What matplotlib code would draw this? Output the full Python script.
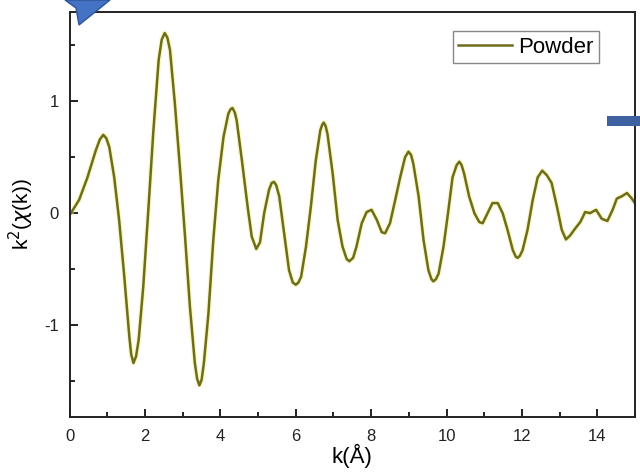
import matplotlib
matplotlib.use("Agg")
import matplotlib.pyplot as plt
from matplotlib.patches import Polygon, Rectangle
from matplotlib.ticker import MultipleLocator

plt.rcParams['font.family'] = ['Liberation Sans', 'DejaVu Sans']
plt.rcParams['axes.unicode_minus'] = False

# k values and k^2 chi(k)
k = [0.03, 0.25, 0.47, 0.69, 0.80, 0.89, 0.97, 1.05, 1.18, 1.31, 1.44, 1.58, 1.63, 1.69,
     1.76, 1.83, 1.95, 2.08, 2.22, 2.36, 2.44, 2.52, 2.59, 2.66, 2.79, 2.93, 3.06, 3.19,
     3.32, 3.38, 3.44, 3.50, 3.56, 3.68, 3.81, 3.94, 4.08, 4.21, 4.27, 4.32, 4.38, 4.43,
     4.57, 4.72, 4.83, 4.95, 5.05, 5.16, 5.29, 5.36, 5.42, 5.48, 5.56, 5.69, 5.82, 5.92,
     6.00, 6.07, 6.14, 6.27, 6.40, 6.53, 6.65, 6.70, 6.74, 6.79, 6.84, 6.98, 7.11, 7.24,
     7.35, 7.42, 7.52, 7.61, 7.75, 7.88, 8.01, 8.15, 8.28, 8.37, 8.50, 8.64, 8.77, 8.90,
     8.99, 9.06, 9.12, 9.26, 9.39, 9.52, 9.60, 9.65, 9.72, 9.79, 9.92, 10.04, 10.16,
     10.27, 10.34, 10.40, 10.47, 10.60, 10.74, 10.87, 10.96, 11.09, 11.22, 11.36, 11.49,
     11.62, 11.76, 11.84, 11.89, 11.95, 12.02, 12.15, 12.29, 12.42, 12.54, 12.66, 12.79,
     12.93, 13.06, 13.17, 13.28, 13.41, 13.55, 13.68, 13.81, 13.97, 14.12, 14.27, 14.41,
     14.52, 14.65, 14.79, 14.92, 15.0]
chi = [0.00, 0.12, 0.32, 0.56, 0.66, 0.70, 0.67, 0.59, 0.32, -0.06, -0.54, -1.10, -1.26, -1.34,
       -1.28, -1.13, -0.66, 0.00, 0.74, 1.37, 1.55, 1.61, 1.57, 1.46, 0.98, 0.38, -0.21, -0.84,
       -1.34, -1.48, -1.54, -1.49, -1.34, -0.90, -0.24, 0.29, 0.68, 0.89, 0.93, 0.94, 0.90, 0.83,
       0.47, 0.06, -0.21, -0.32, -0.26, 0.00, 0.21, 0.27, 0.28, 0.25, 0.15, -0.18, -0.51, -0.62,
       -0.64, -0.62, -0.57, -0.30, 0.06, 0.47, 0.74, 0.79, 0.81, 0.78, 0.71, 0.35, -0.06, -0.30,
       -0.41, -0.43, -0.40, -0.30, -0.09, 0.01, 0.03, -0.06, -0.17, -0.18, -0.09, 0.12, 0.32, 0.50,
       0.55, 0.52, 0.44, 0.15, -0.24, -0.51, -0.59, -0.61, -0.59, -0.54, -0.30, 0.00, 0.32,
       0.43, 0.46, 0.43, 0.35, 0.15, 0.00, -0.08, -0.09, 0.00, 0.09, 0.09, 0.00,
       -0.15, -0.33, -0.39, -0.40, -0.38, -0.33, -0.15, 0.12, 0.32, 0.38, 0.34, 0.27,
       0.06, -0.15, -0.235, -0.20, -0.14, -0.08, 0.01, 0.00, 0.03, -0.05, -0.07, 0.03,
       0.13, 0.15, 0.18, 0.13, 0.09]

fig = plt.figure(figsize=(6.4, 4.73), dpi=100)
ax = fig.add_axes([0.109, 0.119, 0.883, 0.856])

# faint yellow halo under the olive line
ax.plot(k, chi, color='#f3f28c', lw=3.6, alpha=0.5, solid_joinstyle='round')
ax.plot(k, chi, color='#6e6d1c', lw=1.8, solid_joinstyle='round', label='Powder')

ax.set_xlim(0, 15)
ax.set_ylim(-1.82, 1.80)
ax.xaxis.set_major_locator(MultipleLocator(2))
ax.xaxis.set_minor_locator(MultipleLocator(1))
ax.yaxis.set_major_locator(MultipleLocator(1))
ax.yaxis.set_minor_locator(MultipleLocator(0.5))
ax.tick_params(which='both', direction='in', top=False, right=False,
               width=1.4, color='#222222', labelsize=12, labelcolor='#222222')
ax.tick_params(axis='x', which='major', length=6, pad=9)
ax.tick_params(axis='y', which='major', length=6, pad=8)
ax.tick_params(which='minor', length=3.5)
for s in ax.spines.values():
    s.set_linewidth(1.4)
    s.set_color('#222222')

ax.set_xlabel('k(Å)', fontsize=16, labelpad=0)
ax.set_ylabel(r'k$^2$($\chi$(k))', fontsize=15, labelpad=6)

leg = ax.legend(loc='upper right', bbox_to_anchor=(0.937, 0.952), fontsize=16,
                fancybox=False, framealpha=1, edgecolor='#888888',
                handlelength=2.4, borderpad=0.25, handletextpad=0.3,
                borderaxespad=0)
leg.get_frame().set_linewidth(1.0)

# blue slide decorations overlapping the chart
fig.patches.append(Polygon([(65 / 640, 1.0), (110 / 640, 1.0), (79 / 640, 1 - 25 / 473),
                            (76 / 640, 1 - 8 / 473)], closed=True,
                           transform=fig.transFigure, facecolor='#4472c4',
                           edgecolor='#2f5597', lw=1, zorder=5))
fig.patches.append(Rectangle((607 / 640, 1 - 126 / 473), 33 / 640, 10 / 473,
                             transform=fig.transFigure, facecolor='#3e62a0',
                             edgecolor='none', zorder=5))

fig.savefig('out.png', dpi=100)
